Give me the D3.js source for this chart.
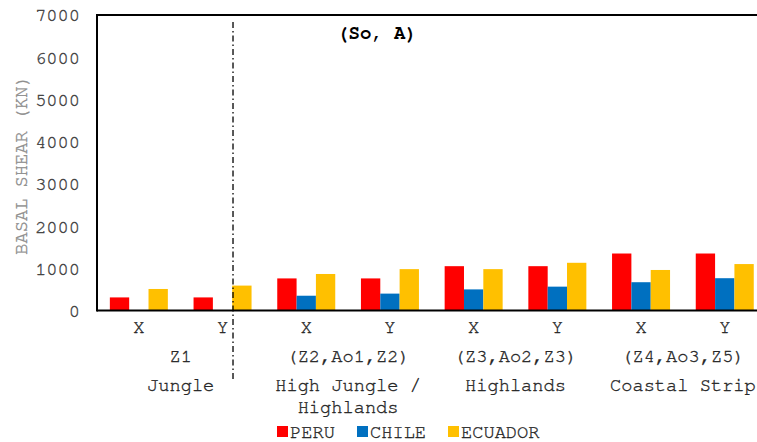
<!DOCTYPE html>
<html><head><meta charset="utf-8">
<script src="https://cdn.jsdelivr.net/npm/d3@7"></script>
<style>
html,body{margin:0;padding:0;background:#fff;}
svg{display:block;font-family:"FreeMono","Courier New",monospace;}
svg text.lbl{stroke-width:0.35px;}
</style></head>
<body><svg id="chart" width="757" height="442"></svg>
<script>
const categories = ["X","Y","X","Y","X","Y","X","Y"];
const zoneLabels = ["Z1","(Z2,Ao1,Z2)","(Z3,Ao2,Z3)","(Z4,Ao3,Z5)"];
const regionLabels = [["Jungle"],["High Jungle /","Highlands"],["Highlands"],["Coastal Strip"]];
const seriesNames = ["PERU","CHILE","ECUADOR"];
const PERU    = [310, 310, 760, 760, 1050, 1050, 1350, 1350];
const CHILE   = [0, 0, 350, 400, 500, 565, 670, 765];
const ECUADOR = [510, 590, 865, 980, 980, 1130, 960, 1100];
const yTicks = [0,1000,2000,3000,4000,5000,6000,7000];
const chartTitle = "(So, A)";
const yTitle = "BASAL SHEAR (KN)";

const colors = {PERU:"#FF0000", CHILE:"#0070C0", ECUADOR:"#FFC000"};
const values = {PERU, CHILE, ECUADOR};

(function(){
const FONT = "FreeMono, 'Courier New', monospace";
const svg = d3.select("#chart");
const pLeft = 97, pTop = 15, pBottom = 310.5, pRight = 97 + 8*83.7;
const keys = categories.map((c,i)=>i);
const x = d3.scaleBand().domain(keys).range([pLeft, pRight]).padding(0);
const y = d3.scaleLinear().domain([0,7000]).range([pBottom, pTop]);
const groupW = 58;
const xs = d3.scaleBand().domain(seriesNames).range([0, groupW]).padding(0);

// bars
seriesNames.forEach(s => {
  svg.append("g").selectAll("rect").data(values[s]).join("rect")
    .attr("x",(d,i)=> x(i) + (x.bandwidth()-groupW)/2 + xs(s))
    .attr("width", xs.bandwidth())
    .attr("y", d=> y(d))
    .attr("height", d=> y(0)-y(d))
    .attr("fill", colors[s]);
});

// frame
svg.append("line").attr("x1",pLeft).attr("x2",757).attr("y1",pTop).attr("y2",pTop).attr("stroke","#000").attr("stroke-width",2);
svg.append("line").attr("x1",pLeft).attr("x2",pLeft).attr("y1",pTop-1).attr("y2",pBottom+1).attr("stroke","#000").attr("stroke-width",2);
svg.append("line").attr("x1",pLeft).attr("x2",757).attr("y1",y(0)).attr("y2",y(0)).attr("stroke","#000").attr("stroke-width",2);

// y axis labels
const yAxis = d3.axisLeft(y).tickValues(yTicks).tickSize(0).tickPadding(17).tickFormat(d3.format("d"));
const ga = svg.append("g").attr("transform",`translate(${pLeft},0)`).call(yAxis);
ga.attr("font-family", null);
ga.select(".domain").remove();
ga.selectAll("text").attr("class","lbl").attr("fill","#404040").attr("stroke","#404040").style("font-size","18.7px").style("font-family",FONT);

// y title
svg.append("text").attr("class","lbl").attr("transform","translate(27,165) rotate(-90)")
  .attr("text-anchor","middle").attr("fill","#8c8c8c").attr("stroke","#8c8c8c").style("font-size","18.7px").text(yTitle);

// title
svg.append("text").attr("x",377).attr("y",39).attr("text-anchor","middle")
  .attr("font-weight","bold").attr("fill","#000").style("font-size","19px").text(chartTitle);

// x category labels
svg.append("g").selectAll("text").data(categories).join("text").attr("class","lbl")
  .attr("x",(d,i)=> x(i)+x.bandwidth()/2).attr("y",333)
  .attr("text-anchor","middle").attr("fill","#262626").attr("stroke","#262626").style("font-size","18.7px").text(d=>d);

// zone labels
svg.append("g").selectAll("text").data(zoneLabels).join("text").attr("class","lbl")
  .attr("x",(d,i)=> x(2*i)+x.bandwidth()).attr("y",362)
  .attr("text-anchor","middle").attr("fill","#262626").attr("stroke","#262626").style("font-size","18.7px").text(d=>d);

// region labels
regionLabels.forEach((lines,i)=>{
  lines.forEach((t,j)=>{
    svg.append("text").attr("class","lbl").attr("x", x(2*i)+x.bandwidth()).attr("y",391 + j*22)
      .attr("text-anchor","middle").attr("fill","#262626").attr("stroke","#262626").style("font-size","18.7px").text(t);
  });
});

// divider
const divX = x(1) + x.bandwidth()*0.625;
svg.append("line").attr("x1",divX).attr("x2",divX).attr("y1",22).attr("y2",379)
  .attr("stroke","#000").attr("stroke-width",1.3).attr("stroke-dasharray","6,3,1.5,3");

// legend
const legX = [277, 357, 448];
const lg = svg.append("g");
seriesNames.forEach((s,i)=>{
  lg.append("rect").attr("x",legX[i]).attr("y",426).attr("width",11).attr("height",11).attr("fill",colors[s]);
  lg.append("text").attr("class","lbl").attr("x",legX[i]+13).attr("y",437.5).attr("fill","#262626").attr("stroke","#262626").style("font-size","18.7px").text(s);
});
})();
</script></body></html>
